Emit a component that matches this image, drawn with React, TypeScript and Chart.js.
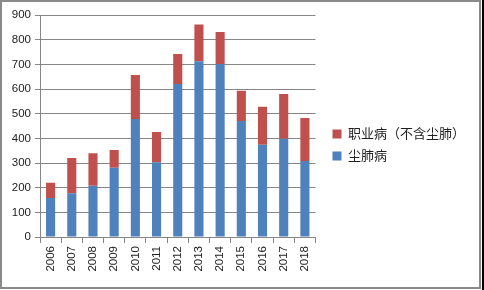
import React, { useEffect, useRef } from "react";
import { Chart, registerables } from "chart.js";

Chart.register(...registerables);

const years = ["2006", "2007", "2008", "2009", "2010", "2011", "2012", "2013", "2014", "2015", "2016", "2017", "2018"];
const pneumoconiosis = [158, 177, 208, 281, 478, 303, 620, 713, 701, 470, 374, 398, 308];
const otherDiseases = [62, 143, 132, 72, 179, 123, 122, 148, 130, 123, 154, 182, 174];
const yTicks = [0, 100, 200, 300, 400, 500, 600, 700, 800, 900];

const seriesNames = ["尘肺病", "职业病（不含尘肺）"];
const BLUE = "#4F81BD";
const RED = "#C0504D";
const AXIS = "#868686";
const FONT = "'Liberation Sans', Arial, 'Noto Sans CJK SC', sans-serif";

export default function App() {
  const canvasRef = useRef<HTMLCanvasElement | null>(null);

  useEffect(() => {
    document.body.style.margin = "0";
    const canvas = canvasRef.current;
    if (!canvas) return;
    const chart = new Chart(canvas, {
      type: "bar",
      data: {
        labels: years,
        datasets: [
          {
            label: seriesNames[0],
            data: pneumoconiosis,
            backgroundColor: BLUE,
            borderWidth: 0,
            barPercentage: 0.43,
            categoryPercentage: 1,
          },
          {
            label: seriesNames[1],
            data: otherDiseases,
            backgroundColor: RED,
            borderWidth: 0,
            barPercentage: 0.43,
            categoryPercentage: 1,
          },
        ],
      },
      options: {
        animation: false,
        responsive: false,
        maintainAspectRatio: false,
        layout: { padding: { top: 0, left: 0, bottom: 0, right: 9 } },
        plugins: {
          tooltip: { enabled: false },
          legend: {
            position: "right",
            reverse: true,
            maxWidth: 200,
            labels: {
              boxWidth: 9,
              boxHeight: 9,
              padding: 9,
              color: "#222",
              font: { family: FONT, size: 13 },
            },
          },
        },
        scales: {
          x: {
            stacked: true,
            grid: {
              display: true,
              drawOnChartArea: false,
              drawTicks: true,
              tickLength: 6,
              color: AXIS,
              offset: true,
            },
            border: { display: true, color: AXIS },
            ticks: {
              color: "#222",
              font: { family: FONT, size: 11.5 },
              minRotation: 90,
              maxRotation: 90,
              padding: 3,
              autoSkip: false,
            },
            afterFit: (s: any) => {
              s.height = 53;
            },
          },
          topGap: {
            type: "category",
            position: "top",
            display: true,
            grid: { display: false, drawTicks: false },
            border: { display: false },
            ticks: { display: false },
            afterFit: (s: any) => {
              s.height = 15;
            },
          },
          y: {
            stacked: true,
            min: 0,
            max: 900,
            afterBuildTicks: (s: any) => {
              s.ticks = yTicks.map((v) => ({ value: v }));
            },
            grid: {
              color: AXIS,
              tickLength: 5,
              drawTicks: true,
            },
            border: { display: true, color: AXIS },
            ticks: {
              color: "#222",
              font: { family: FONT, size: 11.5 },
              padding: 4,
            },
            afterFit: (s: any) => {
              s.width = 40;
            },
          },
          gap: {
            type: "linear",
            position: "right",
            display: true,
            grid: { display: false, drawTicks: false },
            border: { display: false },
            ticks: { display: false },
            afterFit: (s: any) => {
              s.width = 8;
            },
          },
        },
      },
    });
    return () => chart.destroy();
  }, []);

  return (
    <div style={{ position: "relative", width: 484, height: 290, background: "#fff", overflow: "hidden" }}>
      <canvas ref={canvasRef} width={484} height={290} style={{ position: "absolute", left: 0, top: 0, width: 484, height: 290 }} />
      <div
        style={{
          position: "absolute",
          left: 0,
          top: 0,
          width: 481,
          height: 289,
          boxSizing: "border-box",
          border: "2px solid #8a8a8a",
          pointerEvents: "none",
        }}
      />
      <div style={{ position: "absolute", left: 482, top: 0, width: 2, height: 290, background: "#000" }} />
    </div>
  );
}
